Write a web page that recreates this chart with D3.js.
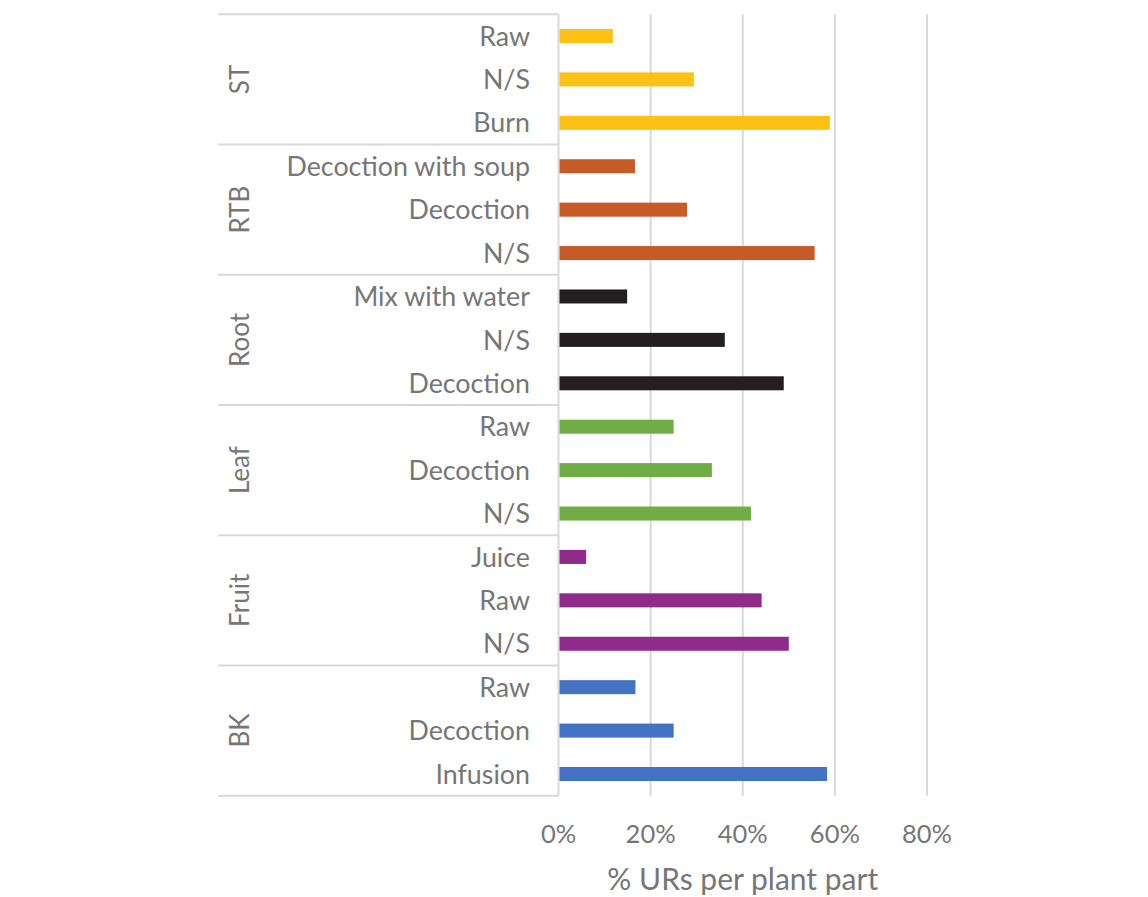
<!DOCTYPE html>
<html>
<head>
<meta charset="utf-8">
<script src="https://cdn.jsdelivr.net/npm/d3@7"></script>
<style>
  html, body { margin: 0; padding: 0; background: #ffffff; }
  svg { display: block; }
  text { font-family: Lato, "Open Sans", "Noto Sans", sans-serif; fill: #767676; }
</style>
</head>
<body>
<svg id="chart" width="1148" height="897"></svg>
<script>
// Plant parts (outer category level), top to bottom
const parts = ["ST", "RTB", "Root", "Leaf", "Fruit", "BK"];

// Preparation methods for each plant part (inner category level)
const methodsST = ["Raw", "N/S", "Burn"];
const methodsRTB = ["Decoction with soup", "Decoction", "N/S"];
const methodsRoot = ["Mix with water", "N/S", "Decoction"];
const methodsLeaf = ["Raw", "Decoction", "N/S"];
const methodsFruit = ["Juice", "Raw", "N/S"];
const methodsBK = ["Raw", "Decoction", "Infusion"];

// % of use reports per plant part
const valuesST = [11.8, 29.4, 58.9];
const valuesRTB = [16.6, 27.9, 55.6];
const valuesRoot = [14.9, 36.1, 48.9];
const valuesLeaf = [25.0, 33.3, 41.8];
const valuesFruit = [6.0, 44.1, 50.0];
const valuesBK = [16.7, 25.0, 58.3];

const partColors = ["#FDC116", "#C65B28", "#231F20", "#71AD46", "#902A8B", "#4472C4"];

const xTicks = [0, 20, 40, 60, 80];
const xTitle = "% URs per plant part";

const methodLists = [methodsST, methodsRTB, methodsRoot, methodsLeaf, methodsFruit, methodsBK];
const valueLists = [valuesST, valuesRTB, valuesRoot, valuesLeaf, valuesFruit, valuesBK];

// Flatten into one row per (part, method)
const rows = [];
parts.forEach((p, gi) => {
  methodLists[gi].forEach((m, mi) => {
    rows.push({ key: p + "|" + m, part: p, group: gi, method: m, value: valueLists[gi][mi] });
  });
});

const svg = d3.select("#chart");
const plotTop = 14.3, plotBottom = 795.7;
const axisX0 = 558.5, axisX80 = 927;
const labelLeft = 218;

const x = d3.scaleLinear().domain([0, 80]).range([axisX0, axisX80]);
const y = d3.scaleBand()
  .domain(rows.map(r => r.key))
  .range([plotTop, plotBottom])
  .paddingInner(0.677)
  .paddingOuter(0.3385);
const step = y.step();

const gridColor = "#d9d9d9";

// Vertical gridlines at the non-zero ticks
svg.append("g")
  .selectAll("line")
  .data(xTicks.filter(t => t > 0))
  .join("line")
  .attr("x1", d => x(d)).attr("x2", d => x(d))
  .attr("y1", plotTop).attr("y2", plotBottom)
  .attr("stroke", gridColor).attr("stroke-width", 2);

// Category axis: vertical line at 0% and group separators across both levels
svg.append("line")
  .attr("x1", x(0)).attr("x2", x(0))
  .attr("y1", plotTop).attr("y2", plotBottom)
  .attr("stroke", gridColor).attr("stroke-width", 2);

const boundaries = d3.range(parts.length + 1).map(i => plotTop + i * 3 * step);
svg.append("g")
  .selectAll("line")
  .data(boundaries)
  .join("line")
  .attr("x1", labelLeft).attr("x2", x(0))
  .attr("y1", d => d).attr("y2", d => d)
  .attr("stroke", gridColor).attr("stroke-width", 2);

// Bars
svg.append("g")
  .selectAll("rect")
  .data(rows)
  .join("rect")
  .attr("x", x(0) + 1)
  .attr("y", d => y(d.key))
  .attr("width", d => x(d.value) - x(0) - 1)
  .attr("height", y.bandwidth())
  .attr("fill", d => partColors[d.group]);

// Inner category labels (methods)
svg.append("g")
  .selectAll("text")
  .data(rows)
  .join("text")
  .attr("x", 530)
  .attr("y", d => y(d.key) + y.bandwidth() / 2)
  .attr("dy", "0.36em")
  .attr("text-anchor", "end")
  .attr("font-size", 26.8)
  .text(d => d.method);

// Outer category labels (plant parts), rotated
svg.append("g")
  .selectAll("text")
  .data(parts)
  .join("text")
  .attr("transform", (d, i) => `translate(240,${plotTop + (i * 3 + 1.5) * step}) rotate(-90)`)
  .attr("dy", "0.36em")
  .attr("text-anchor", "middle")
  .attr("font-size", 26)
  .text(d => d);

// Value axis tick labels
svg.append("g")
  .selectAll("text")
  .data(xTicks)
  .join("text")
  .attr("x", d => x(d))
  .attr("y", 834)
  .attr("dy", "0.36em")
  .attr("text-anchor", "middle")
  .attr("font-size", 25.5)
  .text(d => d3.format(".0%")(d / 100));

// Value axis title
svg.append("text")
  .attr("x", x(40))
  .attr("y", 879)
  .attr("dy", "0.36em")
  .attr("text-anchor", "middle")
  .attr("font-size", 30)
  .text(xTitle);
</script>
</body>
</html>
